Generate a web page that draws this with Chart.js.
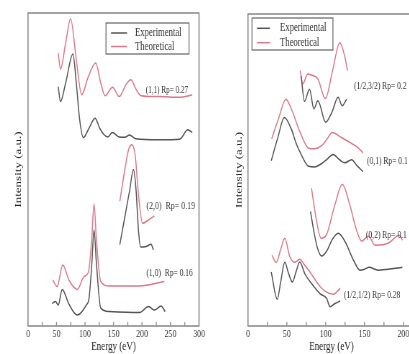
<!DOCTYPE html>
<html>
<head>
<meta charset="utf-8">
<script src="https://cdn.jsdelivr.net/npm/chart.js@4.4.0/dist/chart.umd.min.js"></script>
<style>
  html, body { margin: 0; padding: 0; background: #fff; }
  body { width: 409px; height: 354px; overflow: hidden; position: relative; }
  canvas { position: absolute; top: 0; }
</style>
</head>
<body>
<canvas id="leftPanel" width="300" height="354" style="left:0px"></canvas>
<canvas id="rightPanel" width="278" height="354" style="left:215px"></canvas>
<script>
// the scanned figure is squeezed sideways, so the canvases are too
const squeeze = 0.72;
const serif = "'Liberation Serif', 'Times New Roman', serif";
const expColor = '#555555';
const theoColor = '#d87a8b';

const legendNames = ['Experimental', 'Theoretical'];
const energyTicksLeft = [0, 50, 100, 150, 200, 250, 300];
const energyTicksRight = [0, 50, 100, 150, 200];

// ---- left panel ----
// (1,1)
const e11Exp = [53, 57, 66, 78.8, 84.7, 90.6, 97, 107, 117.6, 125.8, 133.5, 140, 148, 160, 170, 178, 189, 230, 266, 280.5, 288];
const i11Exp = [76.5, 71.7, 77.6, 86.9, 77.6, 65.9, 60.2, 63.2, 66.4, 63.2, 61.1, 60.4, 61.8, 60.4, 60.3, 61.0, 59.8, 59.5, 59.7, 62.7, 61.8];
const e11Theo = [53, 57, 66, 74.7, 84.7, 94, 105.8, 118.8, 127.6, 135.2, 148.2, 160, 171.7, 180.5, 189.3, 198.2, 230.5, 265.8, 288];
const i11Theo = [87.2, 82.1, 90.4, 98.2, 85.1, 73.9, 79.7, 84.0, 77.6, 73.6, 76.3, 73.3, 77.1, 78.7, 75.7, 73.6, 73.3, 73.1, 73.8];
// (2,0)
const e20Exp = [161, 170, 178, 185, 189.3, 194, 197.6, 207, 215.8, 220];
const i20Exp = [26.0, 35.0, 43.0, 50.0, 44.0, 30.0, 25.2, 25.4, 26.1, 24.3];
const e20Theo = [161, 168.8, 176.4, 182.3, 188.2, 194, 201, 210, 221.7];
const i20Theo = [39.8, 48.8, 56.3, 57.9, 54.2, 41.4, 32.8, 33.7, 35.2];
// (1,0)
const e10Exp = [42.3, 48.2, 53, 60, 71.7, 86.5, 102.3, 107, 111.7, 115.8, 120, 127.6, 142.3, 195.2, 211.7, 221.7, 233.4, 240.5];
const i10Exp = [7.2, 7.8, 6.7, 11.7, 7.0, 3.5, 6.7, 8.8, 19.0, 30.7, 20.0, 5.7, 4.6, 4.3, 6.2, 5.1, 6.4, 4.6];
const e10Theo = [43.5, 51, 61, 71.7, 86.5, 98.2, 105.8, 111.7, 115.8, 120, 127.6, 142.3, 195.2, 239.3];
const i10Theo = [14.7, 12.6, 19.5, 14.7, 11.7, 15.8, 17.1, 27.5, 39.0, 27.5, 14.2, 12.8, 12.8, 14.2];

// ---- right panel ----
// (1/2,3/2)
const e1232Exp = [68.4, 72.7, 79.2, 84.8, 90, 100, 108, 116, 121.2, 126.9];
const i1232Exp = [80.2, 72.0, 75.9, 69.6, 72.2, 65.3, 68.5, 73.3, 70.6, 72.7];
const e1232Theo = [67.1, 70.5, 77, 83.5, 90, 99.6, 109, 118.2, 124, 128.2];
const i1232Theo = [81.9, 77.6, 80.8, 80.3, 79.2, 72.9, 82.0, 90.8, 87.0, 81.8];
// (0,1)
const e01Exp = [30, 38, 46.8, 55.5, 62, 68.4, 78, 86, 94.4, 102, 109.5, 118.2, 124.7, 133.4, 140, 148];
const i01Exp = [53.0, 60.0, 66.8, 63.3, 58.5, 55.0, 51.2, 51.0, 52.0, 53.5, 55.0, 53.2, 52.3, 53.3, 51.5, 49.5];
const e01Theo = [30.5, 40, 48.7, 55.8, 66.2, 78, 86, 94.8, 102, 108.4, 120.4, 133.4, 140, 148];
const i01Theo = [60.0, 67.0, 72.7, 69.6, 62.6, 57.0, 56.8, 57.8, 60.0, 62.0, 60.4, 58.5, 57.5, 55.5];
// (0,2)
const e02Exp = [80.5, 85, 90, 94.8, 101.3, 108, 116.2, 125, 136, 144.2, 150, 155.8, 167.5, 180, 190, 198.7];
const i02Exp = [36.7, 30.0, 24.5, 22.4, 24.0, 27.5, 29.7, 27.0, 21.0, 17.9, 18.2, 18.8, 17.9, 18.2, 18.5, 18.8];
const e02Theo = [81.8, 87, 94.2, 101.3, 111.7, 121.4, 131.2, 139, 146.4, 155, 163.6, 180.5, 194.8, 198.7];
const i02Theo = [44.1, 35.5, 28.1, 29.4, 38.7, 45.4, 38.7, 31.3, 27.2, 28.8, 25.9, 26.5, 29.1, 27.5];
// (1/2,1/2)
const e1212Exp = [29.9, 37.7, 42, 47.4, 52, 57.1, 62, 66.6, 73.1, 81.8, 92.6, 101.3, 105.6, 112, 118.8];
const i1212Exp = [17.3, 8.6, 14.0, 20.4, 17.0, 14.1, 17.5, 20.5, 16.8, 13.6, 10.4, 8.8, 6.2, 7.2, 8.0];
const e1212Theo = [30.8, 36.4, 42, 47.4, 53.6, 60.1, 66.6, 73.1, 81.8, 90.5, 99.1, 110, 118.8];
const i1212Theo = [22.7, 20.4, 24.5, 28.1, 22.4, 20.4, 21.4, 19.5, 16.6, 13.4, 11.2, 10.2, 12.1];

function curve(xs, ys, color) {
  return {
    data: xs.map((x, i) => ({ x: x, y: ys[i] })),
    borderColor: color,
    borderWidth: 1.5,
    pointRadius: 0,
    fill: false,
    cubicInterpolationMode: 'monotone'
  };
}

// frame, inward ticks, legend box and the Rp notes
const figureDecor = {
  id: 'figureDecor',
  afterDraw(chart, args, opts) {
    const { ctx, chartArea: a, scales: { x, y } } = chart;
    ctx.save();
    ctx.strokeStyle = '#8e8e8e';
    ctx.lineWidth = 1.6;
    ctx.strokeRect(a.left, a.top, a.right - a.left, a.bottom - a.top);

    ctx.lineWidth = 1.4;
    x.ticks.forEach(t => {
      if (t.value % 25 !== 0 || t.value === x.min || t.value === x.max) return;
      const px = x.getPixelForValue(t.value);
      ctx.beginPath();
      ctx.moveTo(px, a.bottom);
      ctx.lineTo(px, a.bottom - 4);
      ctx.stroke();
    });

    ctx.fillStyle = '#333';
    ctx.textBaseline = 'middle';
    opts.notes.forEach(n => {
      ctx.font = n.size + 'px ' + serif;
      ctx.fillText(n.text, x.getPixelForValue(n.x), y.getPixelForValue(n.y));
    });

    const L = opts.legend;
    ctx.fillStyle = '#fff';
    ctx.fillRect(L.left, L.top, L.width, L.height);
    ctx.strokeStyle = '#7a7a7a';
    ctx.lineWidth = 1.4;
    ctx.strokeRect(L.left, L.top, L.width, L.height);
    ctx.font = L.size + 'px ' + serif;
    ctx.fillStyle = '#333';
    [expColor, theoColor].forEach((c, i) => {
      const ry = L.rows[i];
      ctx.strokeStyle = c;
      ctx.lineWidth = 1.5;
      ctx.beginPath();
      ctx.moveTo(L.lineFrom, ry);
      ctx.lineTo(L.lineTo, ry);
      ctx.stroke();
      ctx.fillText(legendNames[i], L.textX, ry);
    });
    ctx.restore();
  }
};

function panel(id, datasets, xMax, tickList, yWidth, yTitlePad, padRight, padTop, decor) {
  const canvas = document.getElementById(id);
  canvas.style.width = (canvas.width * squeeze) + 'px';
  canvas.style.height = canvas.height + 'px';
  return new Chart(canvas, {
    type: 'line',
    data: { datasets: datasets },
    options: {
      responsive: false,
      maintainAspectRatio: false,
      animation: false,
      layout: { padding: { top: padTop, right: padRight, bottom: 0, left: 0 } },
      plugins: {
        legend: { display: false },
        tooltip: { enabled: false },
        figureDecor: decor
      },
      scales: {
        x: {
          type: 'linear',
          min: 0,
          max: xMax,
          afterFit: s => { s.height = 28; },
          grid: { display: false, drawTicks: false },
          border: { display: false },
          ticks: {
            stepSize: 25,
            includeBounds: false,
            padding: 1.5,
            maxRotation: 0,
            autoSkip: false,
            color: '#333',
            font: { family: serif, size: 11 },
            callback: v => tickList.includes(v) ? String(v) : ''
          },
          title: {
            display: true,
            text: 'Energy (eV)',
            color: '#222',
            font: { family: serif, size: 12.5 },
            padding: { top: 0, bottom: 0 }
          }
        },
        y: {
          min: 0,
          max: 100,
          afterFit: s => { s.width = yWidth; },
          grid: { display: false, drawTicks: false },
          border: { display: false },
          ticks: { display: false },
          title: {
            display: true,
            text: 'Intensity (a.u.)',
            color: '#222',
            font: { family: serif, size: 13 },
            padding: { top: yTitlePad, bottom: 0 }
          }
        }
      }
    },
    plugins: [figureDecor]
  });
}

panel('leftPanel', [
  curve(e11Exp, i11Exp, expColor),
  curve(e11Theo, i11Theo, theoColor),
  curve(e20Exp, i20Exp, expColor),
  curve(e20Theo, i20Theo, theoColor),
  curve(e10Exp, i10Exp, expColor),
  curve(e10Theo, i10Theo, theoColor)
], 300, energyTicksLeft, 28 / squeeze, 17.9, 23.6, 13, {
  legend: { left: 147.2, top: 23, width: 115.3, height: 31, lineFrom: 154.2, lineTo: 176.4, textX: 187.5, rows: [33, 46.5], size: 12 },
  notes: [
    { text: '(1,1) Rp= 0.27', x: 206.5, y: 75.4, size: 10 },
    { text: '(2,0)  Rp= 0.19', x: 207.7, y: 38.3, size: 11 },
    { text: '(1,0)  Rp= 0.16', x: 207.7, y: 16.9, size: 10.5 }
  ]
});

panel('rightPanel', [
  curve(e1232Exp, i1232Exp, expColor),
  curve(e1232Theo, i1232Theo, theoColor),
  curve(e01Exp, i01Exp, expColor),
  curve(e01Theo, i01Theo, theoColor),
  curve(e02Exp, i02Exp, expColor),
  curve(e02Theo, i02Theo, theoColor),
  curve(e1212Exp, i1212Exp, expColor),
  curve(e1212Theo, i1212Theo, theoColor)
], 215, energyTicksRight, 33 / squeeze, 25.5, 0, 14, {
  legend: { left: 51.4, top: 18, width: 112.5, height: 32, lineFrom: 58.3, lineTo: 76.4, textX: 90.3, rows: [28.3, 42.7], size: 12 },
  notes: [
    { text: '(1/2,3/2) Rp= 0.2', x: 136.5, y: 77.0, size: 10.5 },
    { text: '(0,1) Rp= 0.1', x: 153.2, y: 52.7, size: 10.5 },
    { text: '(0,2) Rp= 0.1', x: 151.9, y: 29.1, size: 10.5 },
    { text: '(1/2,1/2) Rp= 0.28', x: 123.6, y: 9.9, size: 10.5 }
  ]
});
</script>
</body>
</html>
